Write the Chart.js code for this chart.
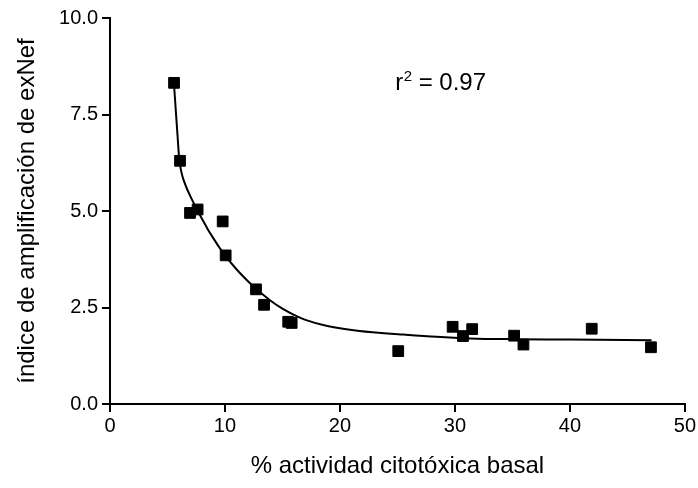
<!DOCTYPE html>
<html>
<head>
<meta charset="utf-8">
<script src="https://cdn.jsdelivr.net/npm/chart.js@4"></script>
<style>
html,body{margin:0;padding:0;background:#fff;}
#wrap{width:698px;height:488px;}
</style>
</head>
<body>
<div id="wrap"><canvas id="c" width="698" height="488"></canvas></div>
<script>
// measured data points
const pointsX = [5.57, 6.09, 6.96, 7.62, 9.8, 10.06, 12.7, 13.4, 15.5, 15.8, 25.07, 29.8, 30.7, 31.5, 35.15, 35.96, 41.9, 47.05];
const pointsY = [8.32, 6.30, 4.95, 5.04, 4.73, 3.85, 2.97, 2.57, 2.13, 2.10, 1.37, 2.00, 1.76, 1.94, 1.77, 1.54, 1.95, 1.47];
// fitted curve
const curveX = [5.59, 5.7, 5.8, 5.9, 6.0, 6.1, 6.2, 6.3, 6.43, 6.7, 6.96, 7.6, 8.0, 8.5, 9.0, 9.5, 10.06, 11.0, 12.0, 12.75, 14.0, 15.0, 16.0, 17.0, 18.9, 21.7, 25.5, 28.4, 31.3, 35.0, 40.0, 47.1];
const curveY = [8.18, 7.70, 7.27, 6.84, 6.42, 6.18, 6.02, 5.90, 5.78, 5.57, 5.40, 5.02, 4.80, 4.53, 4.29, 4.06, 3.83, 3.49, 3.18, 2.97, 2.67, 2.47, 2.31, 2.18, 2.02, 1.89, 1.80, 1.74, 1.70, 1.68, 1.67, 1.65];
const xTicks = [0, 10, 20, 30, 40, 50];
const yTicks = [0, 2.5, 5.0, 7.5, 10.0];
const xTitle = '% actividad citotóxica basal';
const yTitle = 'índice de amplificación de exNef';
const annotation = {x: 24.8, y: 8.34, base: 'r', sup: '2', rest: ' = 0.97'};

const FONT = "'Liberation Sans', Arial, Helvetica, sans-serif";

const rPlugin = {
  id: 'rtext',
  afterDatasetsDraw(chart) {
    const ctx = chart.ctx;
    const px = chart.scales.x.getPixelForValue(annotation.x);
    const py = chart.scales.y.getPixelForValue(annotation.y);
    ctx.save();
    ctx.fillStyle = '#000';
    ctx.textBaseline = 'alphabetic';
    ctx.textAlign = 'left';
    ctx.font = '24px ' + FONT;
    const base = py + 8;
    ctx.fillText(annotation.base, px, base);
    let w = ctx.measureText(annotation.base).width;
    ctx.font = '15px ' + FONT;
    ctx.fillText(annotation.sup, px + w + 0.5, base - 9);
    w += ctx.measureText(annotation.sup).width + 0.5;
    ctx.font = '24px ' + FONT;
    ctx.fillText(annotation.rest, px + w, base);
    ctx.restore();
  }
};

new Chart(document.getElementById('c'), {
  type: 'scatter',
  data: {
    datasets: [
      {
        data: pointsX.map((x, i) => ({x: x, y: pointsY[i]})),
        pointStyle: 'rect',
        pointRadius: 7.6,
        pointBackgroundColor: '#000',
        pointBorderColor: '#000',
        pointBorderWidth: 1,
        showLine: false,
        order: 1
      },
      {
        data: curveX.map((x, i) => ({x: x, y: curveY[i]})),
        showLine: true,
        pointRadius: 0,
        borderColor: '#000',
        borderWidth: 2,
        cubicInterpolationMode: 'monotone',
        fill: false,
        order: 2
      }
    ]
  },
  options: {
    responsive: false,
    animation: false,
    devicePixelRatio: 1,
    layout: {padding: {left: 0, right: 13, top: 18, bottom: 0}},
    plugins: {legend: {display: false}, tooltip: {enabled: false}},
    scales: {
      x: {
        type: 'linear',
        min: 0, max: 50,
        afterBuildTicks(s) { s.ticks = xTicks.map(v => ({value: v})); },
        afterFit(s) { s.height = 84; },
        grid: {display: true, drawOnChartArea: false, drawTicks: true, tickLength: 8, color: '#000', lineWidth: 2},
        border: {display: true, color: '#000', width: 2},
        ticks: {color: '#000', font: {family: FONT, size: 20}, padding: 2, maxRotation: 0, callback: v => String(v)},
        title: {display: true, text: xTitle, color: '#000', font: {family: FONT, size: 24}, padding: {top: 0, bottom: 7}}
      },
      y: {
        type: 'linear',
        min: 0, max: 10,
        afterBuildTicks(s) { s.ticks = yTicks.map(v => ({value: v})); },
        afterFit(s) { s.width = 110; },
        grid: {display: true, drawOnChartArea: false, drawTicks: true, tickLength: 8, color: '#000', lineWidth: 2},
        border: {display: true, color: '#000', width: 2},
        ticks: {color: '#000', font: {family: FONT, size: 20}, padding: 4, callback: v => Number(v).toFixed(1)},
        title: {display: true, text: yTitle, color: '#000', font: {family: FONT, size: 24}, padding: {top: 13, bottom: 0}}
      }
    }
  },
  plugins: [rPlugin]
});
</script>
</body>
</html>
